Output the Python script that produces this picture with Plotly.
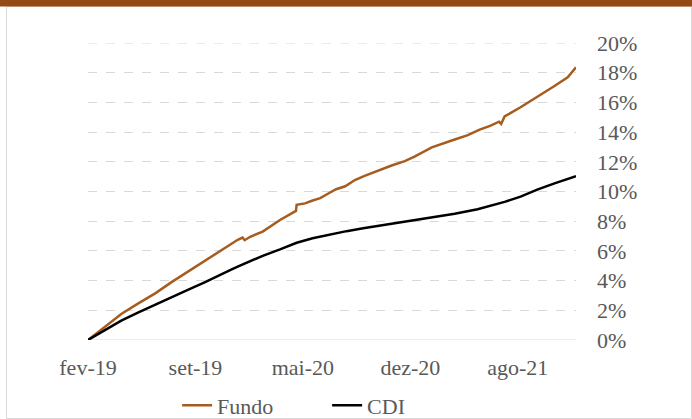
import plotly.graph_objects as go

# Data (x = business-day index since fev-19, y = cumulative return in %)
fundo_dia = [0, 25, 48, 72, 97, 120, 144, 169, 192, 205, 216, 223, 226, 234, 252, 277, 294, 300, 301,
             313, 323, 335, 346, 352, 358, 371, 385, 399, 418, 438, 457, 471, 496, 515, 529, 548, 565,
             580, 593, 596, 601, 624, 649, 673, 692, 704]
fundo_ret = [0.0, 0.9, 1.75, 2.45, 3.14, 3.88, 4.6, 5.35, 6.06, 6.4, 6.75, 6.9, 6.72, 6.95, 7.3, 8.08,
             8.55, 8.69, 9.1, 9.2, 9.38, 9.55, 9.85, 10.0, 10.15, 10.35, 10.77, 11.05, 11.4, 11.75, 12.05,
             12.35, 12.97, 13.25, 13.5, 13.8, 14.17, 14.42, 14.7, 14.55, 15.05, 15.67, 16.39, 17.1,
             17.69, 18.36]

cdi_dia = [0, 25, 48, 72, 97, 120, 144, 169, 192, 205, 216, 252, 277, 301, 324, 349, 373, 397, 421,
           446, 469, 493, 529, 562, 601, 624, 649, 673, 704]
cdi_ret = [0.0, 0.7, 1.3, 1.85, 2.36, 2.85, 3.37, 3.9, 4.38, 4.7, 4.94, 5.67, 6.1, 6.55, 6.85, 7.12,
           7.33, 7.52, 7.7, 7.86, 8.02, 8.24, 8.5, 8.8, 9.3, 9.65, 10.14, 10.55, 11.04]

tick_dia = [0, 155, 310, 465, 620]
tick_labels = ["fev-19", "set-19", "mai-20", "dez-20", "ago-21"]
y_ticks = list(range(0, 21, 2))
y_labels = [f"{v}%" for v in y_ticks]

FONT = "Liberation Serif"
GRAY = "#595959"
BROWN = "#A65C1F"
FS = 22

fig = go.Figure()
fig.add_trace(go.Scatter(x=fundo_dia, y=fundo_ret, mode="lines", name="Fundo",
                         line=dict(color=BROWN, width=2.5)))
fig.add_trace(go.Scatter(x=cdi_dia, y=cdi_ret, mode="lines", name="CDI",
                         line=dict(color="#000000", width=2.5)))

fig.update_layout(
    width=692, height=419,
    margin=dict(l=88, r=116, t=43, b=79, autoexpand=False),
    paper_bgcolor="white", plot_bgcolor="white",
    font=dict(family=FONT, size=FS, color=GRAY),
    showlegend=True,
    legend=dict(orientation="h", x=0.49, xanchor="center", y=-0.22, yanchor="middle",
                font=dict(family=FONT, size=FS, color=GRAY), itemwidth=30, entrywidth=105,
                bgcolor="rgba(0,0,0,0)"),
    xaxis=dict(range=[0, 704], tickvals=tick_dia, ticktext=tick_labels, showgrid=False,
               zeroline=False, showline=False, ticks="", ticklabelstandoff=12, automargin=False,
               tickfont=dict(family=FONT, size=FS, color=GRAY)),
    yaxis=dict(range=[0, 20], side="right", tickvals=y_ticks, ticktext=y_labels,
               showgrid=True, gridcolor="#D9D9D9", griddash="dash", gridwidth=1,
               zeroline=False, showline=False, ticks="", ticklabelstandoff=20, automargin=False,
               tickfont=dict(family=FONT, size=FS, color=GRAY)),
)

# solid baseline at 0% and top gridline at 20%
fig.add_shape(type="line", xref="paper", yref="y", x0=0, x1=1, y0=0, y1=0,
              line=dict(color="#D9D9D9", width=1), layer="below")
fig.add_shape(type="line", xref="paper", yref="y", x0=0, x1=1, y0=20, y1=20,
              line=dict(color="#D9D9D9", width=1, dash="dash"), layer="below")

# outer border and brown top bar (pixel -> paper conversion)
def px_x(p):
    return (p - 88) / 488.0

def px_y(p):
    return (340 - p) / 297.0

fig.add_shape(type="rect", xref="paper", yref="paper", x0=px_x(6.5), x1=px_x(691.5),
              y0=px_y(418.5), y1=px_y(6.5), line=dict(color="#D9D9D9", width=1),
              fillcolor="rgba(0,0,0,0)", layer="below")
fig.add_shape(type="rect", xref="paper", yref="paper", x0=px_x(0), x1=px_x(692),
              y0=px_y(6.5), y1=px_y(0), line=dict(width=0), fillcolor="#944B13")

fig.write_html("out.html", config={"displayModeBar": False},
               post_script="document.body.style.margin='0';document.body.style.overflow='hidden';")
